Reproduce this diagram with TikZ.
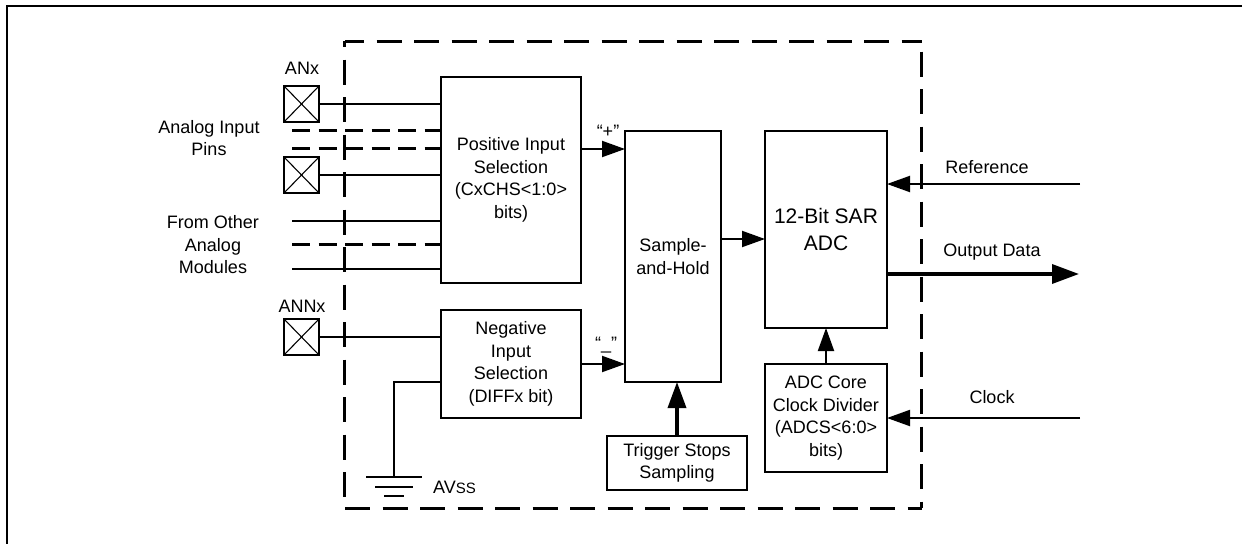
\documentclass[tikz,border=0pt]{standalone}
\usepackage{fontspec}
\setmainfont{Liberation Sans}
\usetikzlibrary{calc,arrows.meta}

\begin{document}
\begin{tikzpicture}[x=1pt, y=-1pt, inner sep=0pt, outer sep=0pt,
    >={Triangle[length=23pt,width=16pt]},
    block/.style={rectangle, draw, line width=1.6pt, align=center,
      font=\fontsize{18}{22.5}\selectfont},
    label/.style={align=center, font=\fontsize{18}{22.5}\selectfont},
    pad/.style={rectangle, draw, line width=1.6pt, minimum width=35pt, minimum height=36pt},
    wire/.style={line width=2pt},
    dashwire/.style={line width=3pt, dash pattern=on 18pt off 8.5pt},
    bound/.style={line width=3pt, dash pattern=on 25pt off 12.5pt},
    frame/.style={line width=2pt}]

  \useasboundingbox (0,0) rectangle (1251,544);

  \draw[frame] (1242,6) -- (7,6) -- (7,544);

  \draw[bound, dash phase=6pt] (345,41.5) -- (922,41.5);
  \draw[bound] (345,508.5) -- (922,508.5);
  \draw[bound, dash phase=19pt] (344.5,41) -- (344.5,508);
  \draw[bound, dash phase=27pt] (921.5,41) -- (921.5,508);

  \node[block, minimum width=140pt, minimum height=206pt] (pos) at (511,180)
    {Positive Input\\Selection\\(CxCHS<1:0>\\bits)};
  \node[block, minimum width=140pt, minimum height=108pt] (neg) at (511,364)
    {Negative\\Input\\Selection\\(DIFFx bit)};
  \node[block, minimum width=96pt, minimum height=251pt] (sample) at (673,256.5)
    {Sample-\\and-Hold};
  \node[block, minimum width=122pt, minimum height=197pt,
    font=\fontsize{21}{27}\selectfont] (adc) at (826,229.5) {12-Bit SAR\\ADC};
  \node[block, minimum width=122pt, minimum height=108pt] (divider) at (826,418)
    {ADC Core\\Clock Divider\\(ADCS<6:0>\\bits)};
  \node[block, minimum width=140pt, minimum height=54pt] (trigger) at (677,463)
    {Trigger Stops\\Sampling};

  \node[pad] (anx) at (301.5,104) {};
  \node[pad] (an) at (301.5,175) {};
  \node[pad] (annx) at (301.5,337) {};

  \foreach \p in {anx,an,annx} {
    \draw[line width=1.1pt] (\p.north east) -- (\p.south west);
    \draw[line width=1.1pt] (\p.north west) -- (\p.south east);
  }

  \node[label] (anxlabel) at (302,68) {ANx};
  \node[label] (annxlabel) at (302,306) {ANNx};
  \node[label] (pinslabel) at (209,138) {Analog Input\\Pins};
  \node[label] (modlabel) at (213,245) {From Other\\Analog\\Modules};
  \node[label] (avss) at (454.5,487) {AV{\fontsize{15}{15}\selectfont SS}};
  \node[label] (reflabel) at (987,167) {Reference};
  \node[label] (outlabel) at (992,252) {Output Data};
  \node[label] (clklabel) at (992,397) {Clock};
  \node[font=\fontsize{18}{18}\selectfont] (pluslabel) at (608,131) {“+”};
  \node[font=\fontsize{18}{18}\selectfont] (minuslabel) at (606,345) {“\_”};

  \draw[wire] (anx.east) -- (anx.east -| pos.west);
  \draw[wire] (an.east) -- (an.east -| pos.west);
  \draw[wire] (annx.east) -- (annx.east -| neg.west);

  \coordinate (pinone) at (292,130.5);
  \coordinate (pintwo) at (292,148.5);
  \coordinate (modone) at (292,221);
  \coordinate (modtwo) at (292,244.5);
  \coordinate (modthree) at (292,269);
  \draw[dashwire] (pinone) -- (pinone -| pos.west);
  \draw[dashwire] (pintwo) -- (pintwo -| pos.west);
  \draw[wire] (modone) -- (modone -| pos.west);
  \draw[dashwire] (modtwo) -- (modtwo -| pos.west);
  \draw[wire] (modthree) -- (modthree -| pos.west);

  \coordinate (gnd) at (394,477);
  \coordinate (gndin) at (441,382);
  \draw[wire] (gndin) -- (gndin -| gnd) -- (gnd);
  \foreach \w/\d in {28/0,19/10,10/19}
    \draw[wire] ($(gnd)+(-\w,\d)$) -- ($(gnd)+(\w,\d)$);

  \coordinate (plusin) at (581,149);
  \coordinate (minusin) at (581,364);
  \coordinate (holdout) at (721,239);
  \draw[wire,->] (plusin) -- (plusin -| sample.west);
  \draw[wire,->] (minusin) -- (minusin -| sample.west);
  \draw[wire,->] (holdout) -- (holdout -| adc.west);
  \draw[wire,->] (divider.north) -- (adc.south);
  \draw[line width=3.5pt,-{Triangle[length=26pt,width=18pt]}]
    (trigger.north) -- (trigger.north |- sample.south);

  \coordinate (refin) at (1080,184);
  \coordinate (clkin) at (1080,418);
  \coordinate (dataout) at (1079,274);
  \draw[wire,->] (refin) -- (refin -| adc.east);
  \draw[wire,->] (clkin) -- (clkin -| divider.east);
  \draw[line width=3.5pt,-{Triangle[length=27pt,width=19pt]}]
    (dataout -| adc.east) -- (dataout);

\end{tikzpicture}
\end{document}
